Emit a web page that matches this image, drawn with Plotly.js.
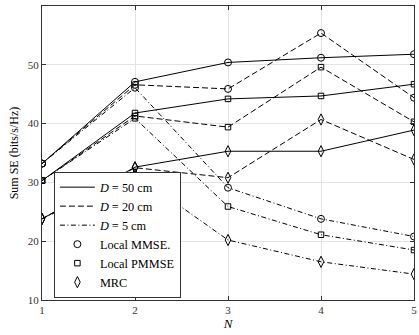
<!DOCTYPE html>
<html><head><meta charset="utf-8">
<script src="https://cdn.plot.ly/plotly-3.0.1.min.js"></script>
<style>html,body{margin:0;padding:0;background:#fff}#c{width:419px;height:335px}</style>
</head><body><div id="c"></div>
<script>
const N = [1, 2, 3, 4, 5];
// D = 50 cm
const mmse50  = [33.2, 47.1, 50.4, 51.2, 51.8];
const pmmse50 = [30.3, 41.8, 44.2, 44.7, 46.7];
const mrc50   = [23.8, 32.6, 35.3, 35.3, 38.9];
// D = 20 cm
const mmse20  = [33.2, 46.6, 45.9, 55.4, 44.4];
const pmmse20 = [30.3, 41.3, 39.4, 49.6, 40.3];
const mrc20   = [23.8, 32.5, 30.8, 40.7, 33.9];
// D = 5 cm
const mmse5   = [33.2, 46.1, 29.1, 23.8, 20.8];
const pmmse5  = [30.3, 40.9, 25.9, 21.1, 18.5];
const mrc5    = [23.8, 31.4, 20.2, 16.5, 14.4];

const legendLines = ['<i>D</i> = 50 cm', '<i>D</i> = 20 cm', '<i>D</i> = 5 cm'];
const legendMarkers = ['Local MMSE.', 'Local PMMSE', 'MRC'];

const dashes = {s: 'solid', d: '6px,3px', dd: '5px,2.5px,1px,2.5px'};
const syms = {c: 'circle-open', q: 'square-open', m: 'diamond-tall-open'};
const sizes = {c: 7, q: 5.5, m: 8};

function tr(y, dash, sym) {
  return {x: N, y: y, mode: 'lines+markers', showlegend: false,
    line: {color: '#000', width: 1, dash: dashes[dash]},
    marker: {symbol: syms[sym], size: sizes[sym], color: '#000', line: {width: 1, color: '#000'}}};
}
const data = [
  tr(mmse50,'s','c'), tr(pmmse50,'s','q'), tr(mrc50,'s','m'),
  tr(mmse20,'d','c'), tr(pmmse20,'d','q'), tr(mrc20,'d','m'),
  tr(mmse5,'dd','c'), tr(pmmse5,'dd','q'), tr(mrc5,'dd','m')
];
['s','d','dd'].forEach((k,i)=>data.push({x:[null],y:[null],mode:'lines',name:legendLines[i],
  line:{color:'#000',width:1,dash:dashes[k]}}));
['c','q','m'].forEach((k,i)=>data.push({x:[null],y:[null],mode:'markers',name:legendMarkers[i],
  marker:{symbol:syms[k],size:sizes[k],color:'#000',line:{width:1,color:'#000'}}}));

const fnt = 'Liberation Serif, Times New Roman, serif';
const layout = {
  width: 419, height: 335,
  margin: {l: 42, r: 5, t: 6, b: 35},
  paper_bgcolor: '#fff', plot_bgcolor: '#fff',
  font: {family: fnt, color: '#000', size: 11},
  showlegend: true,
  xaxis: {range: [1, 5], tickvals: N, ticktext: N.map(String), showgrid: true, gridcolor: '#e3e3e3',
    zeroline: false, showline: true, linecolor: '#333', linewidth: 1, mirror: 'ticks',
    ticks: 'inside', ticklen: 4, tickcolor: '#333', tickfont: {size: 11, color: '#333'},
    title: {text: '<i>N</i>', font: {size: 13}, standoff: 2}},
  yaxis: {range: [10, 60], dtick: 10, showgrid: true, gridcolor: '#e3e3e3',
    zeroline: false, showline: true, linecolor: '#333', linewidth: 1, mirror: 'ticks',
    ticks: 'inside', ticklen: 4, tickcolor: '#333', tickfont: {size: 11, color: '#333'},
    title: {text: 'Sum SE (bits/s/Hz)', font: {size: 12}, standoff: 6}},
  legend: {x: 0.032, y: 0.008, xanchor: 'left', yanchor: 'bottom', bgcolor: '#fff',
    bordercolor: '#333', borderwidth: 1, font: {size: 12.3, family: fnt}, itemwidth: 35,
    tracegroupgap: 0}
};
Plotly.newPlot('c', data, layout, {staticPlot: true});
</script></body></html>
